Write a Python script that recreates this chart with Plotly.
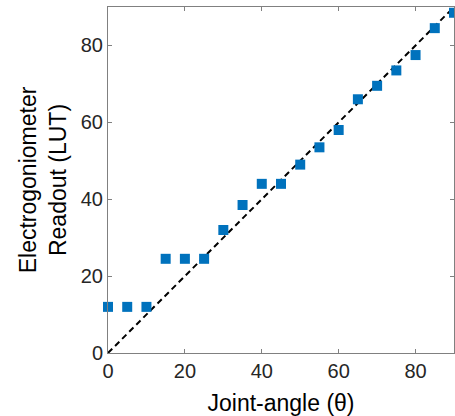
import plotly.graph_objects as go

angles = [0, 5, 10, 15, 20, 25, 30, 35, 40, 45, 50, 55, 60, 65, 70, 75, 80, 85, 90]
readout = [12, 12, 12, 24.5, 24.5, 24.5, 32, 38.5, 44, 44, 49, 53.5, 58, 66, 69.5, 73.5, 77.5, 84.5, 88.5]
ref_line = [0, 90]
ticks = [0, 20, 40, 60, 80]

fig = go.Figure()
fig.add_trace(go.Scatter(x=ref_line, y=ref_line, mode="lines",
                         line=dict(color="black", width=2, dash="6px,4px"), showlegend=False))
fig.add_trace(go.Scatter(x=angles, y=readout, mode="markers",
                         marker=dict(symbol="square", size=10, color="#0072BD"), showlegend=False,
                         cliponaxis=False))

axcommon = dict(showgrid=False, zeroline=False, showline=True, linecolor="#808080", linewidth=1,
                mirror="allticks", ticks="inside", ticklen=4, tickcolor="#808080", automargin=False,
                tickfont=dict(size=20, color="#262626"), range=[0, 90], tickvals=ticks)

fig.update_layout(
    width=455, height=416,
    margin=dict(l=108, r=1, t=7, b=63),
    paper_bgcolor="white", plot_bgcolor="white",
    font=dict(family="Liberation Sans, Arial, sans-serif", color="#262626"),
    xaxis=dict(**axcommon, title=dict(text="Joint-angle (θ)", font=dict(size=23, color="black"), standoff=13)),
    yaxis=dict(**axcommon, title=dict(text="Electrogoniometer<br>Readout (LUT)", font=dict(size=23, color="black"), standoff=7)),
)
fig.write_html("out.html", config={"displayModeBar": False},
               post_script="document.body.style.margin='0';")
